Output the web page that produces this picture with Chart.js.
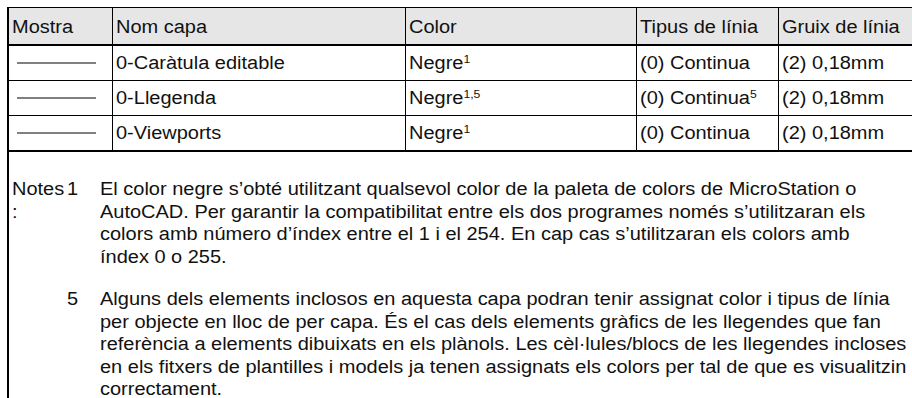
<!DOCTYPE html>
<html>
<head>
<meta charset="utf-8">
<script src="https://cdn.jsdelivr.net/npm/chart.js@4.4.0/dist/chart.umd.min.js"></script>
<style>
  html, body { margin: 0; padding: 0; background: #fff; }
  body { width: 912px; height: 398px; overflow: hidden; position: relative;
         font-family: "Liberation Sans", Arial, sans-serif; font-size: 18px; color: #111; }
  #sheet { position: absolute; left: 7px; top: 7px; width: 940px; bottom: 0;
           border-left: 2px solid #000; }
  table { border-collapse: collapse; table-layout: fixed; width: 940px; }
  th, td { border: 1px solid #000; padding: 0 3px; height: 34px; text-align: left;
           font-weight: normal; white-space: nowrap; overflow: hidden; }
  th { background: #e6e6e6; border-bottom: 2px solid #000; padding-top: 2px; }
  tr:last-child td { border-bottom: 2px solid #000; }
  th:first-child, td:first-child { border-left: none; }
  /* the source is a little wider than Arial; stretch text horizontally */
  .t { display: inline-block; transform: scaleX(1.11); transform-origin: 0 50%; }
  sup { font-size: 11px; vertical-align: 6px; line-height: 0; }
  .sample { position: relative; width: 79px; height: 20px; margin-left: 5px; }
  #notes { position: relative; margin-top: 26px; line-height: 22.5px; }
  .note { display: flex; margin-bottom: 20px; }
  .lbl { width: 55px; padding-left: 3px; white-space: normal; }
  .num { width: 10px; }
  .txt { margin-left: 23px; white-space: nowrap; transform: scaleX(1.11); transform-origin: 0 0; }
</style>
</head>
<body>
<div id="sheet">
  <table id="tbl"></table>
  <div id="notes"></div>
</div>
<script>
// header and rows of the layer table
const headers = ["Mostra", "Nom capa", "Color", "Tipus de línia", "Gruix de línia"];
const colWidths = [103, 293, 231, 142, 171];
const layerNames = ["0-Caràtula editable", "0-Llegenda", "0-Viewports"];
const colorNames = ["Negre", "Negre", "Negre"];
const colorRefs = ["1", "1,5", "1"];
const lineTypes = ["(0) Continua", "(0) Continua", "(0) Continua"];
const lineTypeRefs = ["", "5", ""];
const lineWeights = ["(2) 0,18mm", "(2) 0,18mm", "(2) 0,18mm"];
// sample line in the "Mostra" column: flat solid segment
const sampleX = ["a", "b"];
const sampleY = [0, 0];

const noteNums = ["1", "5"];
const noteLines = [
  [
    "El color negre s’obté utilitzant qualsevol color de la paleta de colors de MicroStation o",
    "AutoCAD. Per garantir la compatibilitat entre els dos programes només s’utilitzaran els",
    "colors amb número d’índex entre el 1 i el 254. En cap cas s’utilitzaran els colors amb",
    "índex 0 o 255."
  ],
  [
    "Alguns dels elements inclosos en aquesta capa podran tenir assignat color i tipus de línia",
    "per objecte en lloc de per capa. És el cas dels elements gràfics de les llegendes que fan",
    "referència a elements dibuixats en els plànols. Les cèl·lules/blocs de les llegendes incloses",
    "en els fitxers de plantilles i models ja tenen assignats els colors per tal de que es visualitzin",
    "correctament."
  ]
];

const t = s => `<span class="t">${s}</span>`;
const tbl = document.getElementById("tbl");
let html = "<colgroup>" + colWidths.map(w => `<col style="width:${w}px">`).join("") + "</colgroup>";
html += "<tr>" + headers.map(h => `<th>${t(h)}</th>`).join("") + "</tr>";
layerNames.forEach((name, i) => {
  const cRef = colorRefs[i] ? `<sup>${colorRefs[i]}</sup>` : "";
  const tRef = lineTypeRefs[i] ? `<sup>${lineTypeRefs[i]}</sup>` : "";
  html += `<tr><td><div class="sample"><canvas id="s${i}"></canvas></div></td>` +
    `<td>${t(name)}</td><td>${t(colorNames[i] + cRef)}</td>` +
    `<td>${t(lineTypes[i] + tRef)}</td><td>${t(lineWeights[i])}</td></tr>`;
});
tbl.innerHTML = html;

const notes = document.getElementById("notes");
notes.innerHTML = noteNums.map((n, i) =>
  `<div class="note"><div class="lbl">${i === 0 ? t("Notes") + "<br>" + t(":") : ""}</div>` +
  `<div class="num">${t(n)}</div><div class="txt">${noteLines[i].join("<br>")}</div></div>`).join("");

layerNames.forEach((name, i) => {
  new Chart(document.getElementById("s" + i), {
    type: "line",
    data: {
      labels: sampleX,
      datasets: [{ data: sampleY, borderColor: "#000", borderWidth: 1, pointRadius: 0, fill: false }]
    },
    options: {
      responsive: true,
      maintainAspectRatio: false,
      animation: false,
      events: [],
      layout: { padding: 0 },
      plugins: { legend: { display: false }, tooltip: { enabled: false } },
      scales: {
        x: { display: false, offset: false },
        y: { display: false, min: -1, max: 1 }
      }
    }
  });
});
</script>
</body>
</html>
